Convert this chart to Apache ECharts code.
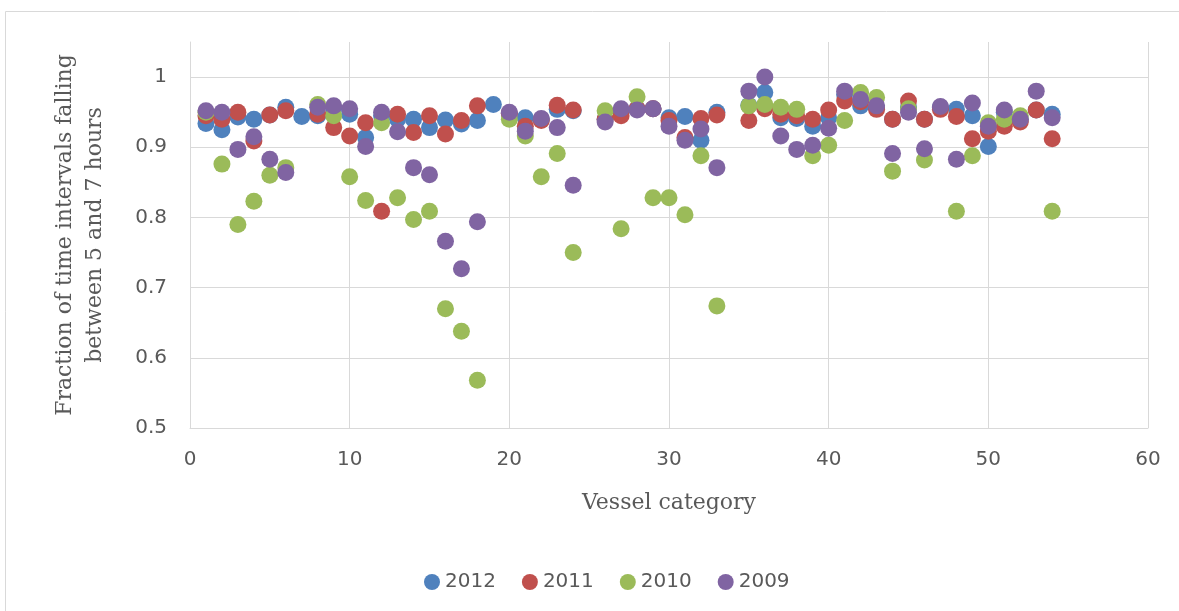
<!DOCTYPE html>
<html>
<head>
<meta charset="utf-8">
<script src="https://cdn.jsdelivr.net/npm/echarts@6/dist/echarts.min.js"></script>
<style>
  html, body { margin: 0; padding: 0; background: #fff; }
  #chart { width: 1179px; height: 611px; }
</style>
</head>
<body>
<div id="chart"></div>
<script>
// vessel category 1..54 (25 and 34 have no data)
const vesselCategory = [
  1, 2, 3, 4, 5, 6, 7, 8, 9, 10, 11, 12, 13, 14, 15, 16, 17, 18,
  19, 20, 21, 22, 23, 24, 25, 26, 27, 28, 29, 30, 31, 32, 33, 34, 35, 36,
  37, 38, 39, 40, 41, 42, 43, 44, 45, 46, 47, 48, 49, 50, 51, 52, 53, 54,
];

const y2012 = [
  0.934, 0.925, 0.943, 0.94, 0.946, 0.957, 0.944, 0.945, 0.955, 0.947, 0.914, 0.945, 0.94, 0.94, 0.928, 0.939, 0.933, 0.938,
  0.961, 0.948, 0.942, 0.94, 0.954, 0.952, null, 0.94, 0.95, 0.955, 0.955, 0.942, 0.944, 0.91, 0.95, null, 0.96, 0.978,
  0.942, 0.941, 0.93, 0.942, 0.975, 0.959, 0.956, 0.94, 0.957, 0.94, 0.957, 0.954, 0.945, 0.901, 0.95, 0.94, 0.953, 0.947,
];
const y2011 = [
  0.945, 0.94, 0.95, 0.909, 0.946, 0.952, null, 0.947, 0.928, 0.916, 0.935, 0.809, 0.947, 0.921, 0.945, 0.919, 0.938, 0.959,
  null, 0.948, 0.93, 0.938, 0.96, 0.953, null, 0.94, 0.945, 0.955, 0.955, 0.938, 0.914, 0.941, 0.946, null, 0.938, 0.955,
  0.947, 0.945, 0.94, 0.953, 0.966, 0.965, 0.954, 0.94, 0.966, 0.94, 0.954, 0.944, 0.912, 0.923, 0.93, 0.936, 0.953, 0.912,
];
const y2010 = [
  0.95, 0.876, 0.79, 0.823, 0.86, 0.871, null, 0.961, 0.945, 0.858, 0.824, 0.935, 0.828, 0.797, 0.809, 0.67, 0.638, 0.568,
  null, 0.94, 0.916, 0.858, 0.891, 0.75, null, 0.952, 0.784, 0.972, 0.828, 0.828, 0.804, 0.888, 0.674, null, 0.959, 0.961,
  0.957, 0.954, 0.888, 0.903, 0.938, 0.978, 0.971, 0.866, 0.955, 0.882, null, 0.809, 0.888, 0.935, 0.94, 0.945, null, 0.809,
];
const y2009 = [
  0.952, 0.95, 0.897, 0.915, 0.883, 0.864, null, 0.957, 0.959, 0.955, 0.901, 0.95, 0.922, 0.871, 0.861, 0.766, 0.727, 0.794,
  null, 0.95, 0.923, 0.941, 0.928, 0.846, null, 0.936, 0.955, 0.953, 0.955, 0.93, 0.91, 0.926, 0.871, null, 0.98, 1.0,
  0.916, 0.897, 0.903, 0.927, 0.98, 0.968, 0.959, 0.891, 0.95, 0.898, 0.958, 0.883, 0.963, 0.93, 0.953, 0.94, 0.98, 0.942,
];

const seriesNames = ["2012", "2011", "2010", "2009"];
const seriesValues = [y2012, y2011, y2010, y2009];
const colors = ["#4F81BD", "#C0504D", "#9BBB59", "#8064A2"];

const serif = "'DejaVu Serif', serif";
const sans = "'DejaVu Sans', sans-serif";
const gray = "#595959";

function points(values) {
  return vesselCategory
    .map((x, i) => [x, values[i]])
    .filter((p) => p[1] !== null);
}

const chart = echarts.init(document.getElementById("chart"));
chart.setOption({
  animation: false,
  color: colors,
  graphic: [
    {
      type: "rect",
      shape: { x: 5.5, y: 11.5, width: 1200, height: 700 },
      style: { fill: "none", stroke: "#d9d9d9", lineWidth: 1 },
      silent: true,
    },
  ],
  grid: { left: 190, right: 31, top: 42, bottom: 183 },
  legend: {
    top: 567,
    left: 419,
    icon: "circle",
    itemWidth: 16,
    itemHeight: 16,
    itemGap: 26,
    textStyle: { color: gray, fontSize: 20, fontFamily: sans },
    data: seriesNames,
  },
  xAxis: {
    type: "value",
    min: 0,
    max: 60,
    interval: 10,
    name: "Vessel category",
    nameLocation: "middle",
    nameGap: 64,
    nameTextStyle: { color: gray, fontSize: 22, fontFamily: serif },
    axisLine: { show: true, lineStyle: { color: "#d9d9d9" } },
    axisTick: { show: false },
    axisLabel: { color: gray, fontSize: 20, fontFamily: sans, margin: 22 },
    splitLine: { show: true, lineStyle: { color: "#d9d9d9" } },
  },
  yAxis: {
    type: "value",
    min: 0.5,
    max: 1.05,
    interval: 0.1,
    name: "Fraction of time intervals falling\nbetween 5 and 7 hours",
    nameLocation: "middle",
    nameGap: 80,
    nameTextStyle: { color: gray, fontSize: 22, fontFamily: serif, lineHeight: 30 },
    axisLine: { show: true, lineStyle: { color: "#d9d9d9" } },
    axisTick: { show: false },
    axisLabel: {
      color: gray,
      fontSize: 20,
      fontFamily: sans,
      margin: 23,
      showMaxLabel: false,
      formatter: (v) => String(Math.round(v * 10) / 10),
    },
    splitLine: { show: true, showMaxLine: false, lineStyle: { color: "#d9d9d9" } },
  },
  series: seriesNames.map((name, i) => ({
    name,
    type: "scatter",
    symbolSize: 17,
    itemStyle: { color: colors[i], opacity: 1 },
    data: points(seriesValues[i]),
  })),
});
</script>
</body>
</html>
